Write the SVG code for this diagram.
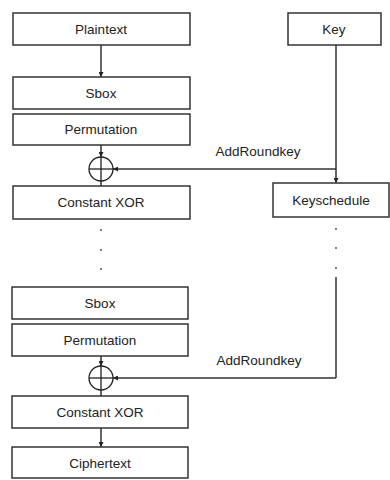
<svg xmlns="http://www.w3.org/2000/svg" width="390" height="480" viewBox="0 0 390 480">
  <defs>
    <marker id="arrow" viewBox="0 0 8 8" refX="8" refY="4" markerWidth="5" markerHeight="5" orient="auto" markerUnits="userSpaceOnUse">
      <path d="M0,0 L8,4 L0,8 z" fill="#222"/>
    </marker>
  </defs>
  <style>
    .box { fill: #fff; stroke: #333; stroke-width: 1.5; }
    .lbl { font-family: "Liberation Sans", Arial, sans-serif; font-size: 13.5px; fill: #222; text-anchor: middle; dominant-baseline: central; }
    .edge { fill: none; stroke: #333; stroke-width: 1.5; }
    .xor { fill: #fff; stroke: #222; stroke-width: 1.3; }
    .dot { fill: #444; }
  </style>
  <rect width="390" height="480" fill="#fff"/>

  <!-- connectors -->
  <g id="connectors">
    <line class="edge" x1="101" y1="45" x2="101" y2="77" marker-end="url(#arrow)"/>
    <line class="edge" x1="101" y1="145" x2="101" y2="157" marker-end="url(#arrow)"/>
    <line class="edge" x1="101" y1="181" x2="101" y2="186"/>
    <line class="edge" x1="336" y1="45" x2="336" y2="183" marker-end="url(#arrow)"/>
    <line class="edge" x1="336" y1="169" x2="113" y2="169" marker-end="url(#arrow)"/>
    <line class="edge" x1="336" y1="277" x2="336" y2="378"/>
    <line class="edge" x1="336" y1="378" x2="113" y2="378" marker-end="url(#arrow)"/>
    <line class="edge" x1="101" y1="356" x2="101" y2="366" marker-end="url(#arrow)"/>
    <line class="edge" x1="101" y1="390" x2="101" y2="396"/>
    <line class="edge" x1="101" y1="428" x2="101" y2="447" marker-end="url(#arrow)"/>
  </g>

  <g id="plaintext"><rect class="box" x="13" y="13" width="177" height="32"/><text class="lbl" x="101" y="29">Plaintext</text></g>
  <g id="key"><rect class="box" x="288" y="13" width="93" height="32"/><text class="lbl" x="334" y="29">Key</text></g>
  <g id="sbox1"><rect class="box" x="13" y="77" width="177" height="32"/><text class="lbl" x="101" y="93">Sbox</text></g>
  <g id="perm1"><rect class="box" x="13" y="114" width="177" height="31"/><text class="lbl" x="101" y="129.5">Permutation</text></g>
  <g id="xor1">
    <circle class="xor" cx="101" cy="169" r="12"/>
    <line class="xor" x1="89" y1="169" x2="113" y2="169"/>
    <line class="xor" x1="101" y1="157" x2="101" y2="181"/>
  </g>
  <g id="addroundkey1"><text class="lbl" x="258" y="151" font-size="14">AddRoundkey</text></g>
  <g id="constxor1"><rect class="box" x="13" y="186" width="177" height="33"/><text class="lbl" x="101" y="202.5">Constant XOR</text></g>
  <g id="keyschedule"><rect class="box" x="273" y="183" width="116" height="34"/><text class="lbl" x="331" y="200">Keyschedule</text></g>

  <g id="dots">
    <circle class="dot" cx="101" cy="230" r="0.9"/>
    <circle class="dot" cx="101" cy="250" r="0.9"/>
    <circle class="dot" cx="101" cy="269" r="0.9"/>
    <circle class="dot" cx="336" cy="229" r="0.9"/>
    <circle class="dot" cx="336" cy="248" r="0.9"/>
    <circle class="dot" cx="336" cy="268" r="0.9"/>
  </g>

  <g id="sbox2"><rect class="box" x="12" y="287" width="176" height="32"/><text class="lbl" x="100" y="303">Sbox</text></g>
  <g id="perm2"><rect class="box" x="12" y="324" width="176" height="32"/><text class="lbl" x="100" y="340">Permutation</text></g>
  <g id="xor2">
    <circle class="xor" cx="101" cy="378" r="12"/>
    <line class="xor" x1="89" y1="378" x2="113" y2="378"/>
    <line class="xor" x1="101" y1="366" x2="101" y2="390"/>
  </g>
  <g id="addroundkey2"><text class="lbl" x="259" y="360" font-size="14">AddRoundkey</text></g>
  <g id="constxor2"><rect class="box" x="12" y="396" width="176" height="32"/><text class="lbl" x="100" y="412">Constant XOR</text></g>
  <g id="ciphertext"><rect class="box" x="12" y="447" width="176" height="31"/><text class="lbl" x="100" y="463">Ciphertext</text></g>
</svg>
